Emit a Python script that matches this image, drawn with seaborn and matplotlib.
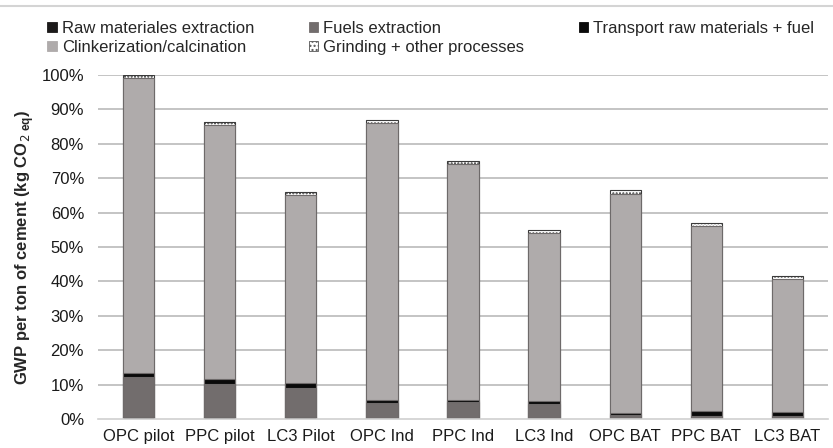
import pandas as pd
import numpy as np
import seaborn as sns
import matplotlib
matplotlib.use("Agg")
import matplotlib.pyplot as plt
from matplotlib.patches import Patch

# data (% of OPC pilot GWP)
cements = ['OPC pilot', 'PPC pilot', 'LC3 Pilot', 'OPC Ind', 'PPC Ind', 'LC3 Ind',
           'OPC BAT', 'PPC BAT', 'LC3 BAT']
raw_materials = [0.5, 0.5, 0.5, 0.4, 0.4, 0.4, 0.3, 0.3, 0.3]
fuels = [11.8, 9.8, 8.5, 4.3, 4.4, 3.9, 1.0, 0.6, 0.5]
transport = [1.2, 1.3, 1.5, 0.8, 0.8, 0.8, 0.5, 1.4, 1.2]
clinker = [85.5, 73.8, 54.5, 80.5, 68.4, 48.9, 63.7, 53.7, 38.7]
grinding = [1.0, 1.0, 1.0, 1.0, 1.0, 1.0, 1.0, 1.0, 1.0]

labels = ['Raw materiales extraction', 'Fuels extraction', 'Transport raw materials + fuel',
          'Clinkerization/calcination', 'Grinding + other processes']
colors = ['#1c1a1a', '#726d6d', '#0a0a0a', '#afabab', '#ffffff']

sns.set_style("white")
plt.rcParams['font.family'] = ['Liberation Sans', 'DejaVu Sans']

df = pd.DataFrame({'cement': cements, 'raw': raw_materials, 'fuels': fuels,
                   'transport': transport, 'clinker': clinker, 'grinding': grinding})
parts = ['raw', 'fuels', 'transport', 'clinker', 'grinding']
cum = df[parts].cumsum(axis=1)

fig = plt.figure(figsize=(8.33, 4.48), dpi=100)
ax = fig.add_axes([98 / 833, 29 / 448, 730 / 833, 344 / 448])

# thin frame line along the top of the picture
fig.add_artist(plt.Line2D([0, 1], [1 - 6 / 448, 1 - 6 / 448], color='#d4d4d4', lw=1.5,
                          transform=fig.transFigure))

for y in range(10, 101, 10):
    ax.axhline(y, color='#bfbfbf', lw=1.3, zorder=0)

# stacked bars: draw cumulative totals from the top down
for i in range(len(parts) - 1, -1, -1):
    part = parts[i]
    hatch = '.....' if part == 'grinding' else None
    sns.barplot(x=df['cement'], y=cum[part], color=colors[i], width=0.385,
                edgecolor='#6e6a6a' if part != 'grinding' else '#3a3a3a',
                linewidth=0.8, hatch=hatch, saturation=1, ax=ax, zorder=2)

ax.set_xlim(-0.5, 8.5)
ax.set_ylim(0, 100)
ax.set_yticks(range(0, 101, 10))
ax.set_yticklabels([f'{v}%' for v in range(0, 101, 10)], fontsize=12, color='#1a1a1a')
ax.tick_params(axis='y', length=0, pad=10)
ax.tick_params(axis='x', length=0, pad=7, labelsize=12, labelcolor='#1a1a1a')
ax.set_xlabel('')
ax.set_ylabel(r'GWP per ton of cement (kg CO$_{2\ \mathregular{eq}}$)', fontsize=12,
              fontweight='bold', labelpad=4)
for s in ['top', 'right', 'left']:
    ax.spines[s].set_visible(False)
ax.spines['bottom'].set_color('#d0d0d0')
ax.spines['bottom'].set_linewidth(1.2)

handles = [Patch(facecolor=c, edgecolor='#555555' if c == '#ffffff' else c,
                 hatch='....' if c == '#ffffff' else None, linewidth=0.6) for c in colors]
order = [0, 3, 1, 4, 2]
fig.legend([handles[k] for k in order], [labels[k] for k in order], loc='upper left',
           bbox_to_anchor=(0.045, 0.975), ncol=3, frameon=False, fontsize=12,
           handlelength=0.55, handleheight=0.55, handletextpad=0.3,
           columnspacing=3.3, labelspacing=0.2, borderaxespad=0.2)

fig.savefig('out.png', dpi=100)
